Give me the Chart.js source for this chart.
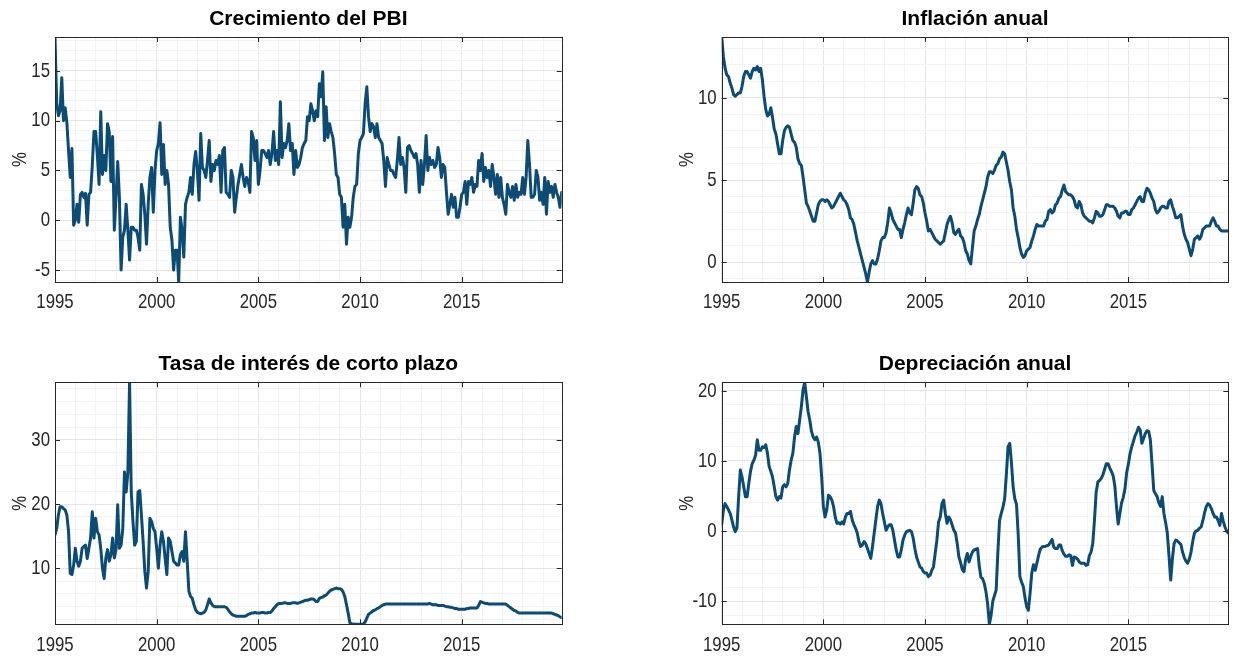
<!DOCTYPE html>
<html>
<head>
<meta charset="utf-8">
<script src="https://cdn.jsdelivr.net/npm/chart.js@4.4.1/dist/chart.umd.min.js"></script>
<style>
  html, body { margin: 0; padding: 0; background: #ffffff; }
  #wrap { position: relative; width: 1234px; height: 659px; overflow: hidden; background: #ffffff; }
  canvas { position: absolute; }
</style>
</head>
<body>
<div id="wrap">
  <canvas id="c1" width="617" height="330" style="left:0px;top:0px"></canvas>
  <canvas id="c2" width="617" height="330" style="left:617px;top:0px"></canvas>
  <canvas id="c3" width="617" height="329" style="left:0px;top:330px"></canvas>
  <canvas id="c4" width="617" height="329" style="left:617px;top:330px"></canvas>
</div>
<script>
// Monthly series, January 1995 to December 2019 (300 months each)
const START_YEAR = 1995;

const gdpGrowth = [
  18.4, 11.8, 10.5, 11.0, 14.3, 10.0, 11.3, 9.8, 7.0, 4.3,
  7.2, -0.5, 0.0, 1.6, -0.2, 2.6, 2.8, 2.3, 2.7, -0.5,
  2.6, 2.8, 5.5, 8.9, 8.9, 6.5, 3.6, 10.9, 4.6, 6.5,
  5.0, 9.7, 8.9, 3.9, 8.4, -1.0, 2.3, 5.9, 2.3, -5.0,
  -1.7, -1.0, 1.6, -1.0, -4.0, -0.7, -0.7, -1.0, -1.0, -1.7,
  -3.0, 3.6, 2.6, 0.6, -2.4, 1.6, 4.3, 5.3, 0.8, 5.0,
  7.0, 7.7, 9.8, 4.6, 7.6, 3.6, 5.0, 3.6, -0.7, -2.0,
  -5.0, -3.0, -3.0, -6.2, 0.3, -1.0, -3.7, 1.6, 2.3, 2.8,
  4.3, 2.6, 5.6, 6.9, 5.0, 2.0, 8.7, 5.3, 5.0, 4.3,
  6.0, 8.0, 3.9, 5.6, 5.0, 6.0, 5.6, 6.5, 2.8, 7.0,
  7.3, 2.8, 2.6, 2.3, 5.0, 4.3, 0.8, 2.3, 3.6, 4.6,
  5.6, 4.3, 3.4, 4.3, 3.9, 2.8, 8.9, 8.3, 6.0, 8.0,
  3.6, 5.0, 7.0, 7.0, 6.7, 6.3, 7.0, 5.6, 6.7, 8.9,
  6.0, 7.0, 5.6, 11.9, 6.3, 7.7, 7.3, 8.0, 9.7, 7.0,
  7.7, 4.6, 7.0, 5.3, 5.6, 6.3, 7.3, 7.7, 8.0, 10.4,
  10.0, 11.7, 11.0, 10.0, 11.0, 10.4, 13.7, 12.4, 14.9, 8.0,
  11.4, 8.3, 9.7, 8.9, 8.3, 6.7, 4.6, 4.3, 2.6, 2.3,
  -0.7, 1.6, -2.4, 0.3, -0.7, 0.3, 2.3, 3.4, 3.6, 6.7,
  8.0, 8.3, 8.7, 11.7, 13.4, 10.4, 8.9, 9.7, 9.4, 8.3,
  9.7, 8.3, 8.0, 7.7, 6.0, 3.4, 6.3, 5.6, 5.0, 5.0,
  4.6, 4.3, 6.0, 8.3, 5.6, 6.3, 5.3, 2.8, 7.3, 7.5,
  7.0, 6.7, 6.3, 6.7, 5.6, 2.8, 6.0, 3.6, 5.6, 8.5,
  5.0, 6.3, 5.6, 6.0, 5.3, 5.6, 7.3, 6.3, 4.3, 5.6,
  5.3, 2.8, 0.6, 1.6, 2.6, 1.3, 2.3, 0.3, 0.3, 1.3,
  2.6, 2.8, 3.9, 1.6, 3.9, 3.6, 4.3, 2.8, 3.6, 3.4,
  6.0, 5.0, 6.7, 3.9, 5.3, 4.3, 5.0, 3.4, 5.6, 4.3,
  2.6, 4.6, 2.3, 4.3, 2.3, 1.6, 0.6, 3.6, 2.8, 2.3,
  3.4, 2.0, 3.6, 2.3, 2.8, 2.6, 4.3, 2.6, 4.3, 8.0,
  5.6, 2.3, 2.3, 2.6, 5.0, 4.3, 2.0, 2.8, 1.6, 4.3,
  0.6, 3.9, 2.8, 3.4, 2.3, 3.6, 2.8, 2.3, 1.3, 2.8
];

const inflation = [
  13.7, 12.5, 11.8, 11.4, 11.3, 10.9, 10.6, 10.2, 10.1, 10.2,
  10.3, 10.3, 10.7, 11.3, 11.6, 11.6, 11.4, 11.2, 11.6, 11.8,
  11.7, 11.9, 11.6, 11.8, 11.1, 10.1, 9.3, 8.9, 9.0, 9.4,
  8.8, 8.1, 7.8, 7.2, 6.6, 6.6, 7.4, 8.0, 8.2, 8.3,
  8.2, 7.8, 7.4, 7.3, 7.0, 6.3, 6.0, 5.9, 5.2, 4.4,
  3.6, 3.4, 3.1, 2.8, 2.5, 2.5, 3.0, 3.5, 3.7, 3.8,
  3.8, 3.7, 3.8, 3.7, 3.5, 3.3, 3.4, 3.6, 3.8, 4.0,
  4.2, 4.0, 3.8, 3.7, 3.5, 3.2, 2.7, 2.6, 2.3, 1.8,
  1.3, 0.9, 0.5, 0.1, -0.3, -0.7, -1.2, -0.6, -0.1, 0.1,
  -0.1, -0.1, 0.2, 0.7, 1.3, 1.5, 1.5, 1.8, 2.4, 3.3,
  3.0, 2.6, 2.4, 2.2, 2.0, 2.0, 1.5, 2.0, 2.4, 2.9,
  3.3, 3.0, 2.9, 3.6, 4.4, 4.6, 4.5, 4.1, 4.0, 3.6,
  3.0, 2.5, 1.9, 2.0, 1.8, 1.6, 1.4, 1.3, 1.2, 1.1,
  1.2, 1.3, 1.8, 2.3, 2.6, 2.8, 2.4, 1.8, 1.7, 1.9,
  2.0, 1.6, 1.5, 1.2, 0.7, 0.5, 0.1, -0.1, 0.9, 1.9,
  2.2, 2.6, 2.9, 3.4, 3.8, 4.2, 4.6, 5.2, 5.5, 5.5,
  5.4, 5.6, 5.9, 6.0, 6.3, 6.4, 6.7, 6.6, 6.1, 5.6,
  4.9, 4.4, 3.3, 2.8, 2.0, 1.5, 0.9, 0.5, 0.3, 0.4,
  0.7, 0.8, 0.9, 1.3, 1.6, 2.0, 2.3, 2.2, 2.2, 2.2,
  2.2, 2.5, 2.6, 3.1, 3.2, 3.0, 3.1, 3.5, 3.6, 3.9,
  4.0, 4.4, 4.7, 4.3, 4.2, 4.1, 4.1, 4.0, 3.8, 3.4,
  3.3, 3.7, 3.5, 3.0, 2.8, 2.7, 2.6, 2.5, 2.5, 2.4,
  2.7, 3.1, 3.0, 2.8, 2.8, 2.9, 3.2, 3.5, 3.5, 3.4,
  3.4, 3.4, 3.3, 3.1, 2.8, 2.7, 3.0, 3.0, 3.1, 3.1,
  2.9, 2.9, 3.2, 3.3, 3.5, 3.7, 3.9, 4.0, 3.7, 3.7,
  4.2, 4.5, 4.4, 4.2, 3.9, 3.7, 3.2, 3.0, 3.1, 3.3,
  3.4, 3.4, 3.3, 3.3, 3.7, 3.8, 3.4, 3.1, 2.7, 2.7,
  2.8, 2.9, 2.2, 1.7, 1.4, 1.2, 0.8, 0.4, 0.8, 1.4,
  1.5, 1.6, 1.4, 1.6, 2.0, 2.1, 2.2, 2.2, 2.2, 2.5,
  2.7, 2.5, 2.2, 2.2, 2.0, 1.9, 1.9, 1.9, 1.9, 1.9
];

const interestRate = [
  15.2, 16.2, 18.3, 19.6, 19.6, 19.3, 19.1, 18.3, 15.7, 9.2,
  9.0, 10.5, 13.1, 11.1, 10.3, 11.1, 13.1, 13.4, 13.6, 11.5,
  13.1, 14.7, 18.8, 14.7, 17.8, 15.7, 15.2, 13.1, 10.0, 8.4,
  11.6, 12.9, 11.1, 12.1, 14.7, 11.6, 12.9, 19.9, 13.1, 13.6,
  16.2, 25.0, 21.9, 25.0, 39.0, 21.9, 17.3, 13.6, 14.2, 21.9,
  22.1, 18.3, 14.2, 9.5, 6.9, 9.5, 17.8, 17.3, 16.2, 15.7,
  13.1, 10.0, 13.6, 15.7, 14.2, 11.5, 9.0, 14.7, 14.2, 12.6,
  11.1, 10.8, 10.5, 10.5, 12.1, 12.6, 11.1, 15.7, 11.1, 6.4,
  5.6, 5.3, 4.3, 3.5, 3.1, 3.0, 2.9, 3.0, 3.1, 3.5,
  4.3, 5.2, 4.6, 4.2, 4.0, 4.0, 4.0, 4.0, 4.0, 4.0,
  4.0, 3.9, 3.6, 3.2, 2.9, 2.7, 2.6, 2.5, 2.5, 2.5,
  2.5, 2.5, 2.5, 2.6, 2.8, 2.9, 3.0, 3.0, 3.1, 3.0,
  3.0, 3.0, 3.1, 3.1, 3.0, 3.0, 3.1, 3.1, 3.3, 3.7,
  4.0, 4.3, 4.5, 4.5, 4.5, 4.6, 4.6, 4.5, 4.5, 4.5,
  4.6, 4.6, 4.6, 4.5, 4.6, 4.7, 4.8, 4.9, 5.0, 5.0,
  5.1, 5.2, 5.2, 5.1, 4.8, 4.8, 5.3, 5.4, 5.5, 5.7,
  5.8, 6.1, 6.4, 6.6, 6.7, 6.8, 6.9, 6.8, 6.8, 6.7,
  6.3, 5.6, 4.3, 3.0, 1.5, 1.3, 1.3, 1.25, 1.25, 1.25,
  1.25, 1.25, 1.3, 1.6, 2.2, 2.8, 3.0, 3.2, 3.4, 3.5,
  3.7, 3.8, 4.0, 4.2, 4.3, 4.4, 4.4, 4.4, 4.4, 4.4,
  4.4, 4.4, 4.4, 4.4, 4.4, 4.4, 4.4, 4.4, 4.4, 4.4,
  4.4, 4.4, 4.4, 4.4, 4.4, 4.4, 4.4, 4.4, 4.4, 4.4,
  4.4, 4.5, 4.4, 4.3, 4.3, 4.3, 4.2, 4.2, 4.2, 4.2,
  4.1, 4.0, 4.0, 3.9, 3.9, 3.8, 3.7, 3.7, 3.6, 3.6,
  3.6, 3.6, 3.6, 3.7, 3.7, 3.8, 3.8, 3.8, 3.8, 3.8,
  4.2, 4.8, 4.7, 4.6, 4.5, 4.5, 4.4, 4.4, 4.4, 4.4,
  4.4, 4.4, 4.4, 4.4, 4.4, 4.4, 4.4, 4.2, 4.0, 3.8,
  3.6, 3.4, 3.3, 3.1, 3.0, 3.0, 3.0, 3.0, 3.0, 3.0,
  3.0, 3.0, 3.0, 3.0, 3.0, 3.0, 3.0, 3.0, 3.0, 3.0,
  3.0, 3.0, 3.0, 3.0, 2.9, 2.8, 2.7, 2.6, 2.4, 2.3
];

const depreciation = [
  0.9, 3.0, 3.9, 3.5, 3.0, 2.5, 1.6, 0.6, -0.1, 0.4,
  4.9, 8.7, 7.7, 6.3, 4.9, 4.9, 6.8, 8.5, 9.6, 10.1,
  10.8, 13.0, 11.5, 11.5, 12.0, 11.9, 12.3, 11.1, 9.2, 8.5,
  7.7, 6.3, 4.9, 4.4, 4.9, 4.7, 6.3, 6.6, 6.3, 6.8,
  8.7, 10.1, 11.1, 13.4, 14.9, 13.9, 15.8, 17.7, 20.1, 21.2,
  19.1, 17.0, 15.8, 14.2, 13.4, 13.0, 13.4, 12.7, 11.1, 7.7,
  3.5, 2.0, 3.0, 5.1, 4.9, 4.4, 3.5, 2.0, 1.1, 1.2,
  1.0, 1.3, 1.0, 2.0, 2.5, 2.5, 2.8, 1.6, 0.9, 0.4,
  -0.3, -1.5, -2.2, -2.0, -1.5, -1.8, -2.5, -3.2, -3.9, -2.2,
  -0.3, 1.6, 3.5, 4.4, 3.9, 2.5, 1.3, 0.1, 0.6, 0.9,
  0.9, 0.1, -1.3, -2.7, -3.7, -3.7, -2.7, -1.3, -0.6, -0.1,
  0.0, 0.1, -0.1, -1.0, -2.5, -3.7, -4.4, -5.1, -5.3, -5.8,
  -6.0, -6.0, -6.5, -6.3, -5.6, -5.1, -3.2, -1.3, 1.3, 2.0,
  3.9, 4.4, 2.5, 1.1, 2.0, 1.6, 0.9, 0.1, -0.3, -1.8,
  -3.7, -4.5, -5.5, -5.8, -4.0, -3.2, -4.4, -3.6, -3.0, -2.7,
  -2.6, -2.5, -5.0, -6.6, -6.8, -7.5, -8.7, -10.5, -13.3, -12.0,
  -10.0, -9.2, -8.4, -3.0, 1.5, 2.5, 3.4, 4.6, 8.0, 12.0,
  12.5, 9.8, 6.3, 4.6, 3.8, -0.5, -6.5, -7.3, -7.9, -9.5,
  -10.8, -11.3, -8.9, -6.0, -4.8, -5.6, -4.6, -3.5, -2.6, -2.3,
  -2.2, -2.2, -2.1, -2.0, -1.6, -1.2, -2.3, -2.5, -2.5, -2.0,
  -2.0, -2.8, -3.3, -3.6, -3.6, -3.4, -3.5, -4.9, -3.7, -3.8,
  -4.0, -4.4, -4.6, -4.6, -4.6, -4.9, -4.8, -3.5, -3.0, -1.8,
  1.5, 5.5, 7.0, 7.2, 7.5, 8.0, 8.8, 9.6, 9.6, 9.0,
  8.5, 7.9, 6.5, 3.5, 1.0, 2.5, 4.0, 4.8, 6.0, 8.3,
  9.5, 11.0, 12.0, 12.8, 13.6, 14.1, 14.8, 14.4, 12.5, 13.2,
  13.9, 14.3, 14.2, 13.0, 9.5, 5.8, 5.3, 4.9, 4.0, 3.5,
  4.9, 2.5, 1.2, -0.3, -3.5, -7.0, -4.0, -1.8, -1.3, -1.4,
  -1.7, -1.9, -3.0, -3.8, -4.3, -4.6, -4.0, -3.0, -1.5, -0.3,
  0.0, 0.1, 0.4, 0.6, 1.5, 2.6, 3.5, 3.9, 3.7, 3.2,
  2.5, 2.0, 2.0, 1.5, 0.8, 2.5, 1.4, 0.6, 0.0, -0.3
];

// Labelled ticks
const xTickLabels = ['1995', '2000', '2005', '2010', '2015'];
const gdpTicks = [-5, 0, 5, 10, 15];
const inflationTicks = [0, 5, 10];
const rateTicks = [10, 20, 30];
const depreciationTicks = [-10, 0, 10, 20];

const LINE_COLOR = '#0c4b74';
const AXIS_COLOR = '#262626';
const GRID_MAJOR = '#e6e6e6';
const GRID_MINOR = '#f3f3f3';
const TICK_FONT = "'Liberation Sans Narrow', 'Liberation Sans', Arial, sans-serif";
const TITLE_FONT = "'Liberation Sans', Arial, sans-serif";
const NARROW = 0.8;   // horizontal squeeze for axis text

function isWhole(v) { return Math.abs(v - Math.round(v)) < 1e-6; }
function isXMajor(v) { return isWhole(v) && xTickLabels.includes(String(Math.round(v))); }

// Axis text is drawn slightly condensed around its anchor point
const narrowText = {
  id: 'narrowText',
  beforeDraw(chart) {
    const ctx = chart.ctx;
    if (ctx.__narrow) return;
    const orig = ctx.fillText;
    ctx.fillText = function (text, x, y, maxWidth) {
      if (this.font.indexOf('Narrow') === -1) {
        return maxWidth === undefined ? orig.call(this, text, x, y) : orig.call(this, text, x, y, maxWidth);
      }
      this.save();
      this.translate(x, y);
      this.scale(NARROW, 1);
      orig.call(this, text, 0, 0);
      this.restore();
    };
    ctx.__narrow = true;
  }
};

// MATLAB-style box with inward tick marks on all four sides
const axesBox = {
  id: 'axesBox',
  afterDatasetsDraw(chart, args, opts) {
    const { ctx, chartArea: a, scales: { x, y } } = chart;
    const L = 5;
    ctx.save();
    ctx.strokeStyle = AXIS_COLOR;
    ctx.lineWidth = 1;
    ctx.beginPath();
    x.ticks.forEach(t => {
      if (!isXMajor(t.value)) return;
      const px = Math.round(x.getPixelForValue(t.value)) + 0.5;
      ctx.moveTo(px, a.bottom); ctx.lineTo(px, a.bottom - L);
      ctx.moveTo(px, a.top); ctx.lineTo(px, a.top + L);
    });
    y.ticks.forEach(t => {
      if (!(isWhole(t.value) && opts.yLabels.includes(Math.round(t.value)))) return;
      const py = Math.round(y.getPixelForValue(t.value)) + 0.5;
      ctx.moveTo(a.left, py); ctx.lineTo(a.left + L, py);
      ctx.moveTo(a.right, py); ctx.lineTo(a.right - L, py);
    });
    ctx.stroke();
    ctx.strokeRect(Math.round(a.left) + 0.5, Math.round(a.top) + 0.5,
                   Math.round(a.right) - Math.round(a.left), Math.round(a.bottom) - Math.round(a.top));
    ctx.restore();
  }
};

function makePanel(cfg) {
  const points = cfg.values.map((v, i) => ({ x: START_YEAR + i / 12, y: v }));
  const xMax = START_YEAR + (cfg.values.length - 1) / 12;
  return new Chart(document.getElementById(cfg.id), {
    type: 'line',
    data: { datasets: [{ data: points, borderColor: LINE_COLOR, borderWidth: 3,
      pointRadius: 0, tension: 0, borderJoinStyle: 'round', borderCapStyle: 'round', fill: false }] },
    plugins: [narrowText, axesBox],
    options: {
      responsive: false,
      animation: false,
      events: [],
      layout: { padding: { left: cfg.padLeft, right: cfg.padRight, top: 0, bottom: 0 } },
      plugins: {
        legend: { display: false },
        tooltip: { enabled: false },
        title: {
          display: true, text: cfg.title, color: '#000000', fullSize: false,
          font: { family: TITLE_FONT, size: 21, weight: 'bold', lineHeight: 1.2 },
          padding: { top: cfg.titleTop, bottom: cfg.titleBottom }
        },
        axesBox: { yLabels: cfg.yLabels }
      },
      scales: {
        x: {
          type: 'linear', min: START_YEAR, max: xMax,
          afterFit: s => { s.height = cfg.xAxisHeight; },
          border: { display: false },
          grid: { drawTicks: false, lineWidth: 1,
                  color: c => (c.tick && isXMajor(c.tick.value)) ? GRID_MAJOR : GRID_MINOR },
          ticks: {
            stepSize: 1, includeBounds: false, autoSkip: false, maxRotation: 0, minRotation: 0,
            padding: 8, color: AXIS_COLOR, font: { family: TICK_FONT, size: 21 },
            callback: v => isXMajor(v) ? String(Math.round(v)) : ''
          }
        },
        y: {
          type: 'linear', min: cfg.yMin, max: cfg.yMax,
          afterFit: s => { s.width = 55; },
          border: { display: false },
          grid: { drawTicks: false, lineWidth: 1,
                  color: c => (c.tick && isWhole(c.tick.value) && cfg.yLabels.includes(Math.round(c.tick.value))) ? GRID_MAJOR : GRID_MINOR },
          title: { display: true, text: '%', color: AXIS_COLOR,
                   font: { family: TICK_FONT, size: 21, lineHeight: 1.2 }, padding: { top: 8, bottom: 0 } },
          ticks: {
            stepSize: cfg.yStep, includeBounds: false, autoSkip: false,
            padding: 5, color: AXIS_COLOR, font: { family: TICK_FONT, size: 21 },
            callback: v => (isWhole(v) && cfg.yLabels.includes(Math.round(v))) ? String(Math.round(v)) : ''
          }
        }
      }
    }
  });
}

makePanel({ id: 'c1', title: 'Crecimiento del PBI', values: gdpGrowth, yLabels: gdpTicks,
  yMin: -6.2, yMax: 18.4, yStep: 1, padLeft: 0, padRight: 55.3,
  titleTop: 6.9, titleBottom: 4.9, xAxisHeight: 48 });
makePanel({ id: 'c2', title: 'Inflación anual', values: inflation, yLabels: inflationTicks,
  yMin: -1.2, yMax: 13.7, yStep: 1, padLeft: 49.7, padRight: 5.7,
  titleTop: 6.9, titleBottom: 4.9, xAxisHeight: 48 });
makePanel({ id: 'c3', title: 'Tasa de interés de corto plazo', values: interestRate, yLabels: rateTicks,
  yMin: 1.25, yMax: 39.0, yStep: 2, padLeft: 0, padRight: 55.3,
  titleTop: 21.9, titleBottom: 5.2, xAxisHeight: 34.7 });
makePanel({ id: 'c4', title: 'Depreciación anual', values: depreciation, yLabels: depreciationTicks,
  yMin: -13.3, yMax: 21.2, yStep: 2, padLeft: 49.7, padRight: 5.7,
  titleTop: 21.9, titleBottom: 5.2, xAxisHeight: 34.7 });
</script>
</body>
</html>
